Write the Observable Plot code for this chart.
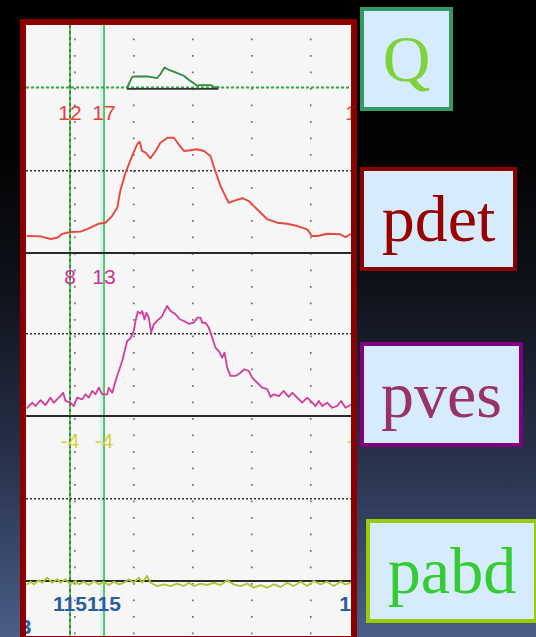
<!DOCTYPE html>
<html><head><meta charset="utf-8">
<script src="https://cdn.jsdelivr.net/npm/d3@7"></script>
<script src="https://cdn.jsdelivr.net/npm/@observablehq/plot@0.6"></script>
<style>
html,body{margin:0;padding:0;}
body{width:536px;height:637px;overflow:hidden;position:relative;
 background:linear-gradient(to bottom,#000 0%,#020202 24%,#0f131b 46%,#27314a 72%,#4a5e88 100%);
 font-family:"Liberation Sans",Arial,sans-serif;}
#panel{position:absolute;left:20px;top:19px;width:337px;height:623px;box-sizing:border-box;
 border:6px solid #8b0000;background:#f6f6f6;overflow:hidden;}
.box{position:absolute;box-sizing:border-box;border:4px solid;background:#d6ecfd;
 font-family:"Liberation Serif","Times New Roman",serif;font-size:66px;
 display:flex;align-items:center;justify-content:center;}
</style></head><body>
<div id="panel"></div>
<div class="box" style="left:360px;top:7px;width:93px;height:104px;border-color:#339966;color:#7ed23a;">Q</div>
<div class="box" style="left:360px;top:167px;width:157px;height:104px;border-color:#8b0000;color:#990000;">pdet</div>
<div class="box" style="left:360px;top:342px;width:163px;height:105px;border-color:#800080;color:#993366;">pves</div>
<div class="box" style="left:366px;top:519px;width:172px;height:104px;border-color:#99cc00;color:#33cc33;">pabd</div>
<script>
// ---- data (time in s, flow in ml/s, pressures in cmH2O) ----
const gridT = [10, 20, 30, 40, 50];
const cursorT = [9.19, 14.95, 57.7];
const refLevel = 47;

const qT = [18.88,19.73,20.29,22.27,23.97,24.53,25.2,25.93,27.07,28.47,29.32,30.75,31.31,33.0,33.56,34.41];
const qV = [0,6.1,6.3,6.3,5.4,7.7,11.4,10.1,8.6,6.7,4.4,1.0,1.4,1.4,0.4,0];

const pdetT = [1.93,4.19,5.88,7.02,7.86,9.27,10.97,12.1,13.17,14.0,15.2,16.3,17.2,17.7,18.6,19.7,20.6,21.0,21.4,22.0,22.8,23.7,24.5,25.7,26.8,27.6,28.5,29.6,30.7,31.9,33.0,33.8,34.7,35.5,36.1,37.2,38.4,39.5,40.3,41.5,42.6,44.3,46.0,47.7,49.4,50.2,51.1,52.8,55.0,55.9,56.7];
const pdetV = [9.7,9.5,8.0,8.7,10.9,12.0,12.2,13.7,15.4,16.7,17.3,21.1,25.9,35.4,45.9,55.4,62.3,63.6,58.3,57.3,54.1,58.3,63.0,65.9,65.9,62.1,58.3,58.7,59.3,58.3,55.4,46.9,38.3,32.6,28.7,30.1,31.3,29.7,26.9,23.0,19.3,17.3,16.7,15.4,13.5,9.7,9.7,11.0,10.7,9.1,10.7];

const pvesT = [1.93,2.78,3.34,4.19,5.03,5.88,6.44,7.29,8.03,8.42,9.27,9.83,10.41,11.25,11.81,12.37,12.95,13.51,14.07,14.64,15.49,15.76,16.34,16.9,17.46,18.03,18.59,18.88,19.44,20.0,20.29,20.68,21.14,21.42,21.81,22.15,22.54,22.95,23.39,24.24,24.81,25.2,25.66,26.22,27.07,27.8,28.47,29.32,30.17,30.75,31.31,31.59,32.15,32.71,33.29,33.85,34.41,34.98,35.37,35.83,36.39,37.24,38.08,38.76,39.49,40.07,40.92,41.76,42.61,43.17,43.73,44.58,45.42,46.27,46.85,47.69,48.54,49.39,50.24,50.8,51.36,51.93,52.78,53.63,54.47,55.15,55.88,56.73];
const pvesV = [4.7,7.6,5.7,9.0,6.3,10.5,7.6,10.5,13.3,8.6,7.6,5.7,10.5,9.5,12.4,10.5,14.3,12.4,16.2,12.4,12.4,16.2,13.3,20.0,25.7,31.4,39.0,42.9,44.4,48.6,54.3,59.6,58.5,60.0,55.3,59.0,56.2,47.6,52.4,55.3,57.1,60.0,62.9,60.0,58.1,55.3,54.3,52.7,53.3,56.2,56.2,53.3,53.3,50.5,44.7,39.0,37.1,33.3,36.2,27.6,22.9,22.9,24.7,26.7,25.7,21.9,19.0,16.2,15.3,10.9,12.4,11.4,14.3,10.9,13.3,10.5,7.6,10.5,7.6,5.7,8.6,5.7,7.6,4.7,5.7,8.6,4.7,6.3];

const pabdT = [1.93,2.49,3.05,3.9,4.47,5.32,6.17,7.02,7.58,8.42,9.27,10.12,10.68,11.53,12.37,13.22,14.07,14.92,15.76,16.61,17.46,18.31,19.15,20.0,20.85,21.42,22.27,22.83,23.97,25.08,26.22,27.36,28.47,29.32,30.17,31.31,32.44,33.56,34.69,35.83,36.95,38.08,39.22,40.34,41.47,42.61,43.73,44.86,46.0,47.12,48.25,49.39,50.51,51.64,52.78,53.9,55.05,55.88,56.73];
const pabdV = [-1.9,-0.4,-1.9,0.4,-1.0,1.9,-1.0,1.0,-1.0,1.0,-1.9,0,-1.9,-0.4,-2.3,0,-1.9,-0.4,-2.3,-0.4,-1.9,-1.0,1.0,-1.0,1.9,-1.0,2.9,-1.0,-2.9,-1.9,-2.9,-1.5,-2.9,-1.0,-2.9,-1.5,-2.3,-1.0,-2.3,0.4,-1.9,-2.9,-1.5,-3.8,-2.3,-3.8,-1.9,-3.4,-1.0,-2.9,-0.4,-2.9,0,-1.9,-0.4,-2.9,-0.4,-1.9,-1.0];

// cursor readouts (the third cursor lies just past the right edge of the trace window)
const pdetLabels = ["12", "17", "11"];
const pvesLabels = ["8", "13"];
const pabdLabels = ["-4", "-4", "-4"];
const volLabels = ["115", "115", "115"];
const volLabelT2 = [1.64];
const volLabels2 = ["3"];

// ---- layout ----
const panel = document.getElementById("panel");
const W = 325, INNER_TOP = 25, K = 1.75;
const xScale = {domain: [1.81, 56.9], axis: null};
const font = {fontFamily: "Liberation Sans, Arial, sans-serif", background: "transparent"};

function layer(topPage, bottomPage, zeroPage, marks) {
  const h = bottomPage - topPage;
  const svg = Plot.plot({
    width: W, height: h, margin: 0,
    x: xScale,
    y: {domain: [(zeroPage - bottomPage) / K, (zeroPage - topPage) / K], axis: null},
    style: font,
    marks
  });
  svg.style.position = "absolute";
  svg.style.left = "0px";
  svg.style.top = (topPage - INNER_TOP) + "px";
  svg.style.maxWidth = "none";
  panel.appendChild(svg);
}
const zip = (T, V) => T.map((t, i) => ({t, v: V[i]}));
const labelMarks = (labels, color, dy, weight) => Plot.text(cursorT.slice(0, labels.length), {
  x: d => d, text: (d, i) => labels[i], frameAnchor: "top", dy,
  fill: color, fontSize: 21, fontWeight: weight || "normal", textAnchor: "middle"
});

// grid + cursors
layer(25, 636, 636, [
  Plot.ruleX(gridT, {stroke: "#6f6f6f", strokeWidth: 1.7, strokeDasharray: "1.7,14.8", strokeDashoffset: 3}),
  Plot.ruleX([cursorT[1]], {stroke: "#d4eef4", strokeWidth: 3, dx: -2.5}),
  Plot.ruleX(cursorT.slice(0, 2), {stroke: "#3fbf45", strokeWidth: 1.7}),
  Plot.ruleX([cursorT[0]], {stroke: "#1f5a22", strokeWidth: 1.2, strokeDasharray: "3,3"})
]);

// Q
layer(25, 100, 87, [
  Plot.ruleY([0], {stroke: "#2fa83a", strokeWidth: 2, strokeDasharray: "3,2"}),
  Plot.ruleY([-0.8], {x1: qT[0], x2: qT[qT.length - 1], stroke: "#333", strokeWidth: 1.8}),
  Plot.line(zip(qT, qV), {x: "t", y: "v", stroke: "#2e8b3c", strokeWidth: 1.8})
]);

// pdet
layer(94.5, 262, 252, [
  Plot.ruleY([refLevel], {stroke: "#333", strokeWidth: 1.6, strokeDasharray: "2,2"}),
  Plot.ruleY([0], {stroke: "#2a2a2a", strokeWidth: 1.9}),
  Plot.line(zip(pdetT, pdetV), {x: "t", y: "v", stroke: "#e8483c", strokeWidth: 1.9}),
  labelMarks(pdetLabels, "#e8403c", 10)
]);

// pves
layer(258.5, 425, 415, [
  Plot.ruleY([refLevel], {stroke: "#333", strokeWidth: 1.6, strokeDasharray: "2,2"}),
  Plot.ruleY([0], {stroke: "#2a2a2a", strokeWidth: 1.9}),
  Plot.line(zip(pvesT, pvesV), {x: "t", y: "v", stroke: "#d23c9b", strokeWidth: 1.8}),
  labelMarks(pvesLabels, "#cc3399", 10)
]);

// pabd
layer(422.5, 592, 580, [
  Plot.ruleY([refLevel], {stroke: "#333", strokeWidth: 1.6, strokeDasharray: "2,2"}),
  Plot.ruleY([0], {stroke: "#2a2a2a", strokeWidth: 1.9}),
  Plot.line(zip(pabdT, pabdV), {x: "t", y: "v", stroke: "#aac83a", strokeWidth: 1.9}),
  labelMarks(pabdLabels, "#d6cf3c", 10)
]);

// volume labels
layer(585.5, 636, 636, [
  labelMarks(volLabels, "#2a5d9f", 10, "bold"),
  Plot.text(volLabelT2, {x: d => d, text: (d, i) => volLabels2[i], frameAnchor: "top", dy: 33,
    fill: "#2a5d9f", fontSize: 21, fontWeight: "bold", textAnchor: "middle"})
]);
</script>
</body></html>
